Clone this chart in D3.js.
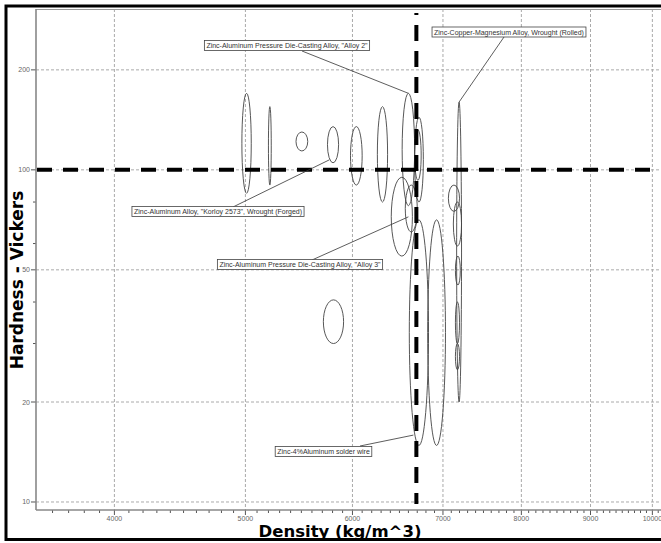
<!DOCTYPE html>
<html>
<head>
<meta charset="utf-8">
<script src="https://cdn.jsdelivr.net/npm/d3@7"></script>
<style>
  body { margin: 0; background: #fff; }
  svg { display: block; }
</style>
</head>
<body>
<svg width="661" height="543"></svg>
<script>
// property ranges (density kg/m^3, hardness HV)
var densityLo  = [4970, 5200, 5450, 5750, 5980, 6260, 6530, 6670, 6670, 6410, 6565, 6610, 6820, 7065, 7125, 7165, 7150, 7150, 7150, 5710];
var densityHi  = [5050, 5225, 5560, 5860, 6100, 6370, 6670, 6770, 6745, 6645, 6700, 6830, 7030, 7200, 7225, 7225, 7210, 7200, 7200, 5910];
var hardnessLo = [85, 90, 114, 105, 90, 80, 78, 80, 93, 55, 65, 14.8, 14.8, 75, 59, 20, 45, 30, 25, 30];
var hardnessHi = [170, 155, 130, 135, 135, 155, 170, 144, 132, 95, 90, 70.7, 70.7, 90, 80, 160, 55, 40, 30, 40.6];

var xTicks = [4000, 5000, 6000, 7000, 8000, 9000, 10000];
var yTicks = [10, 20, 50, 100, 200];
var yMinorTicks = [30, 40, 60, 80];

// labelled records: text and the point (density, hardness) the leader points at
var labelText = [
    'Zinc-Aluminum Pressure Die-Casting Alloy, "Alloy 2"',
    'Zinc-Copper-Magnesium Alloy, Wrought (Rolled)',
    'Zinc-Aluminum Alloy, "Korloy 2573", Wrought (Forged)',
    'Zinc-Aluminum Pressure Die-Casting Alloy, "Alloy 3"',
    'Zinc-4%Aluminum solder wire'
];
var labelDensity  = [6600, 7195, 5769, 6600, 6656];
var labelHardness = [170, 160, 107.2, 72.2, 15.9];

var hardnessLimit = 100;
var densityLimit = 6690;

// where the callout boxes sit on the page (box centre, leader start)
var boxLayout = [
    {cx: 287, cy: 45.5, lx: 302, ly: 51},
    {cx: 509, cy: 32, lx: 504, ly: 37},
    {cx: 218, cy: 211.5, lx: 233, ly: 207},
    {cx: 300, cy: 264.5, lx: 312, ly: 260},
    {cx: 323.5, cy: 451.5, lx: 360, ly: 446}
];

var svg = d3.select("svg"),
    plotLeft = 36, plotRight = 664, plotTop = 9, plotBottom = 510;

var x = d3.scaleLog().domain([3500, 10200]).range([plotLeft, plotRight]);
var y = d3.scaleLog().domain([9.46, 305]).range([plotBottom, plotTop]);

svg.append("clipPath").attr("id", "plot")
    .append("rect")
    .attr("x", plotLeft).attr("y", plotTop)
    .attr("width", plotRight - plotLeft).attr("height", plotBottom - plotTop);

// grid
var grid = svg.append("g").attr("class", "grid");
grid.selectAll("line.gx")
    .data(xTicks)
    .enter().append("line")
    .attr("x1", x).attr("x2", x)
    .attr("y1", plotTop).attr("y2", plotBottom)
    .attr("stroke", "#aaa")
    .attr("stroke-dasharray", "3,2");
grid.selectAll("line.gy")
    .data(yTicks)
    .enter().append("line")
    .attr("x1", plotLeft).attr("x2", plotRight)
    .attr("y1", y).attr("y2", y)
    .attr("stroke", "#aaa")
    .attr("stroke-dasharray", "3,2");

// top edge of plot area
svg.append("line")
    .attr("x1", plotLeft).attr("x2", plotRight)
    .attr("y1", plotTop + 0.5).attr("y2", plotTop + 0.5)
    .attr("stroke", "#999");

// ellipses
var idx = d3.range(densityLo.length);
svg.append("g")
    .attr("clip-path", "url(#plot)")
    .selectAll("ellipse")
    .data(idx)
    .enter().append("ellipse")
    .attr("cx", function (i) { return (x(densityLo[i]) + x(densityHi[i])) / 2; })
    .attr("cy", function (i) { return (y(hardnessLo[i]) + y(hardnessHi[i])) / 2; })
    .attr("rx", function (i) { return Math.max(1, (x(densityHi[i]) - x(densityLo[i])) / 2); })
    .attr("ry", function (i) { return (y(hardnessLo[i]) - y(hardnessHi[i])) / 2; })
    .attr("fill", "none")
    .attr("stroke", "#444")
    .attr("stroke-width", 0.9);

// limit lines
svg.append("line")
    .attr("x1", plotLeft + 1).attr("x2", 661)
    .attr("y1", y(hardnessLimit)).attr("y2", y(hardnessLimit))
    .attr("stroke", "#000")
    .attr("stroke-width", 4)
    .attr("stroke-dasharray", "15,11");
svg.append("line")
    .attr("x1", x(densityLimit)).attr("x2", x(densityLimit))
    .attr("y1", 13).attr("y2", 504)
    .attr("stroke", "#000")
    .attr("stroke-width", 4)
    .attr("stroke-dasharray", "16,10")
    .attr("stroke-dashoffset", 14);

// axes
var xAxis = svg.append("g")
    .attr("transform", "translate(0," + plotBottom + ")");
xAxis.selectAll("line.minor")
    .data(d3.range(3600, 10200, 100))
    .enter().append("line")
    .attr("x1", x).attr("x2", x)
    .attr("y1", 0).attr("y2", function (d) { return d % 1000 === 0 ? 5 : 3; })
    .attr("stroke", "#555");
xAxis.append("line")
    .attr("x1", plotLeft).attr("x2", plotRight)
    .attr("stroke", "#888").attr("stroke-width", 1.6);
xAxis.selectAll("text")
    .data(xTicks)
    .enter().append("text")
    .attr("x", x).attr("y", 10.5)
    .attr("text-anchor", "middle")
    .attr("font-family", "Liberation Sans, Arial, sans-serif")
    .attr("font-size", 7)
    .attr("fill", "#666")
    .text(function (d) { return d; });

var yAxis = svg.append("g")
    .attr("transform", "translate(" + plotLeft + ",0)");
yAxis.selectAll("line.tick")
    .data(yTicks.concat(yMinorTicks))
    .enter().append("line")
    .attr("x1", function (d) { return yTicks.indexOf(d) >= 0 ? -5 : -3; }).attr("x2", 0)
    .attr("y1", y).attr("y2", y)
    .attr("stroke", "#555");
yAxis.append("line")
    .attr("y1", plotTop).attr("y2", plotBottom)
    .attr("stroke", "#888").attr("stroke-width", 1.6);
yAxis.selectAll("text")
    .data(yTicks)
    .enter().append("text")
    .attr("x", -6).attr("y", function (d) { return y(d) + 2.5; })
    .attr("text-anchor", "end")
    .attr("font-family", "Liberation Sans, Arial, sans-serif")
    .attr("font-size", 7)
    .attr("fill", "#666")
    .text(function (d) { return d; });

// titles
svg.append("text")
    .attr("x", 340).attr("y", 536.5)
    .attr("text-anchor", "middle")
    .attr("font-family", "DejaVu Sans, Verdana, sans-serif")
    .attr("font-weight", "bold")
    .attr("font-size", 16.5)
    .text("Density (kg/m^3)");
svg.append("text")
    .attr("transform", "translate(23,280) rotate(-90)")
    .attr("text-anchor", "middle")
    .attr("font-family", "DejaVu Sans, Verdana, sans-serif")
    .attr("font-weight", "bold")
    .attr("font-size", 17)
    .text("Hardness - Vickers");

// callouts
var callouts = svg.append("g").selectAll("g")
    .data(labelText)
    .enter().append("g");
callouts.append("line")
    .attr("x1", function (d, i) { return boxLayout[i].lx; })
    .attr("y1", function (d, i) { return boxLayout[i].ly; })
    .attr("x2", function (d, i) { return x(labelDensity[i]); })
    .attr("y2", function (d, i) { return y(labelHardness[i]); })
    .attr("stroke", "#333")
    .attr("stroke-width", 0.8);
var boxRect = callouts.append("rect")
    .attr("fill", "#fff")
    .attr("stroke", "#444")
    .attr("stroke-width", 0.8);
var boxText = callouts.append("text")
    .attr("x", function (d, i) { return boxLayout[i].cx; })
    .attr("y", function (d, i) { return boxLayout[i].cy + 2.5; })
    .attr("text-anchor", "middle")
    .attr("font-family", "Liberation Sans, Arial, sans-serif")
    .attr("font-size", 7)
    .attr("fill", "#333")
    .text(function (d) { return d; });
boxText.each(function (d, i) {
    var w = this.getComputedTextLength() + 4;
    d3.select(boxRect.nodes()[i])
        .attr("x", boxLayout[i].cx - w / 2)
        .attr("y", boxLayout[i].cy - 5)
        .attr("width", w)
        .attr("height", 10);
});

// outer frame
svg.append("rect")
    .attr("x", 6).attr("y", 6)
    .attr("width", 700).attr("height", 533.5)
    .attr("fill", "none")
    .attr("stroke", "#000")
    .attr("stroke-width", 3);
</script>
</body>
</html>
